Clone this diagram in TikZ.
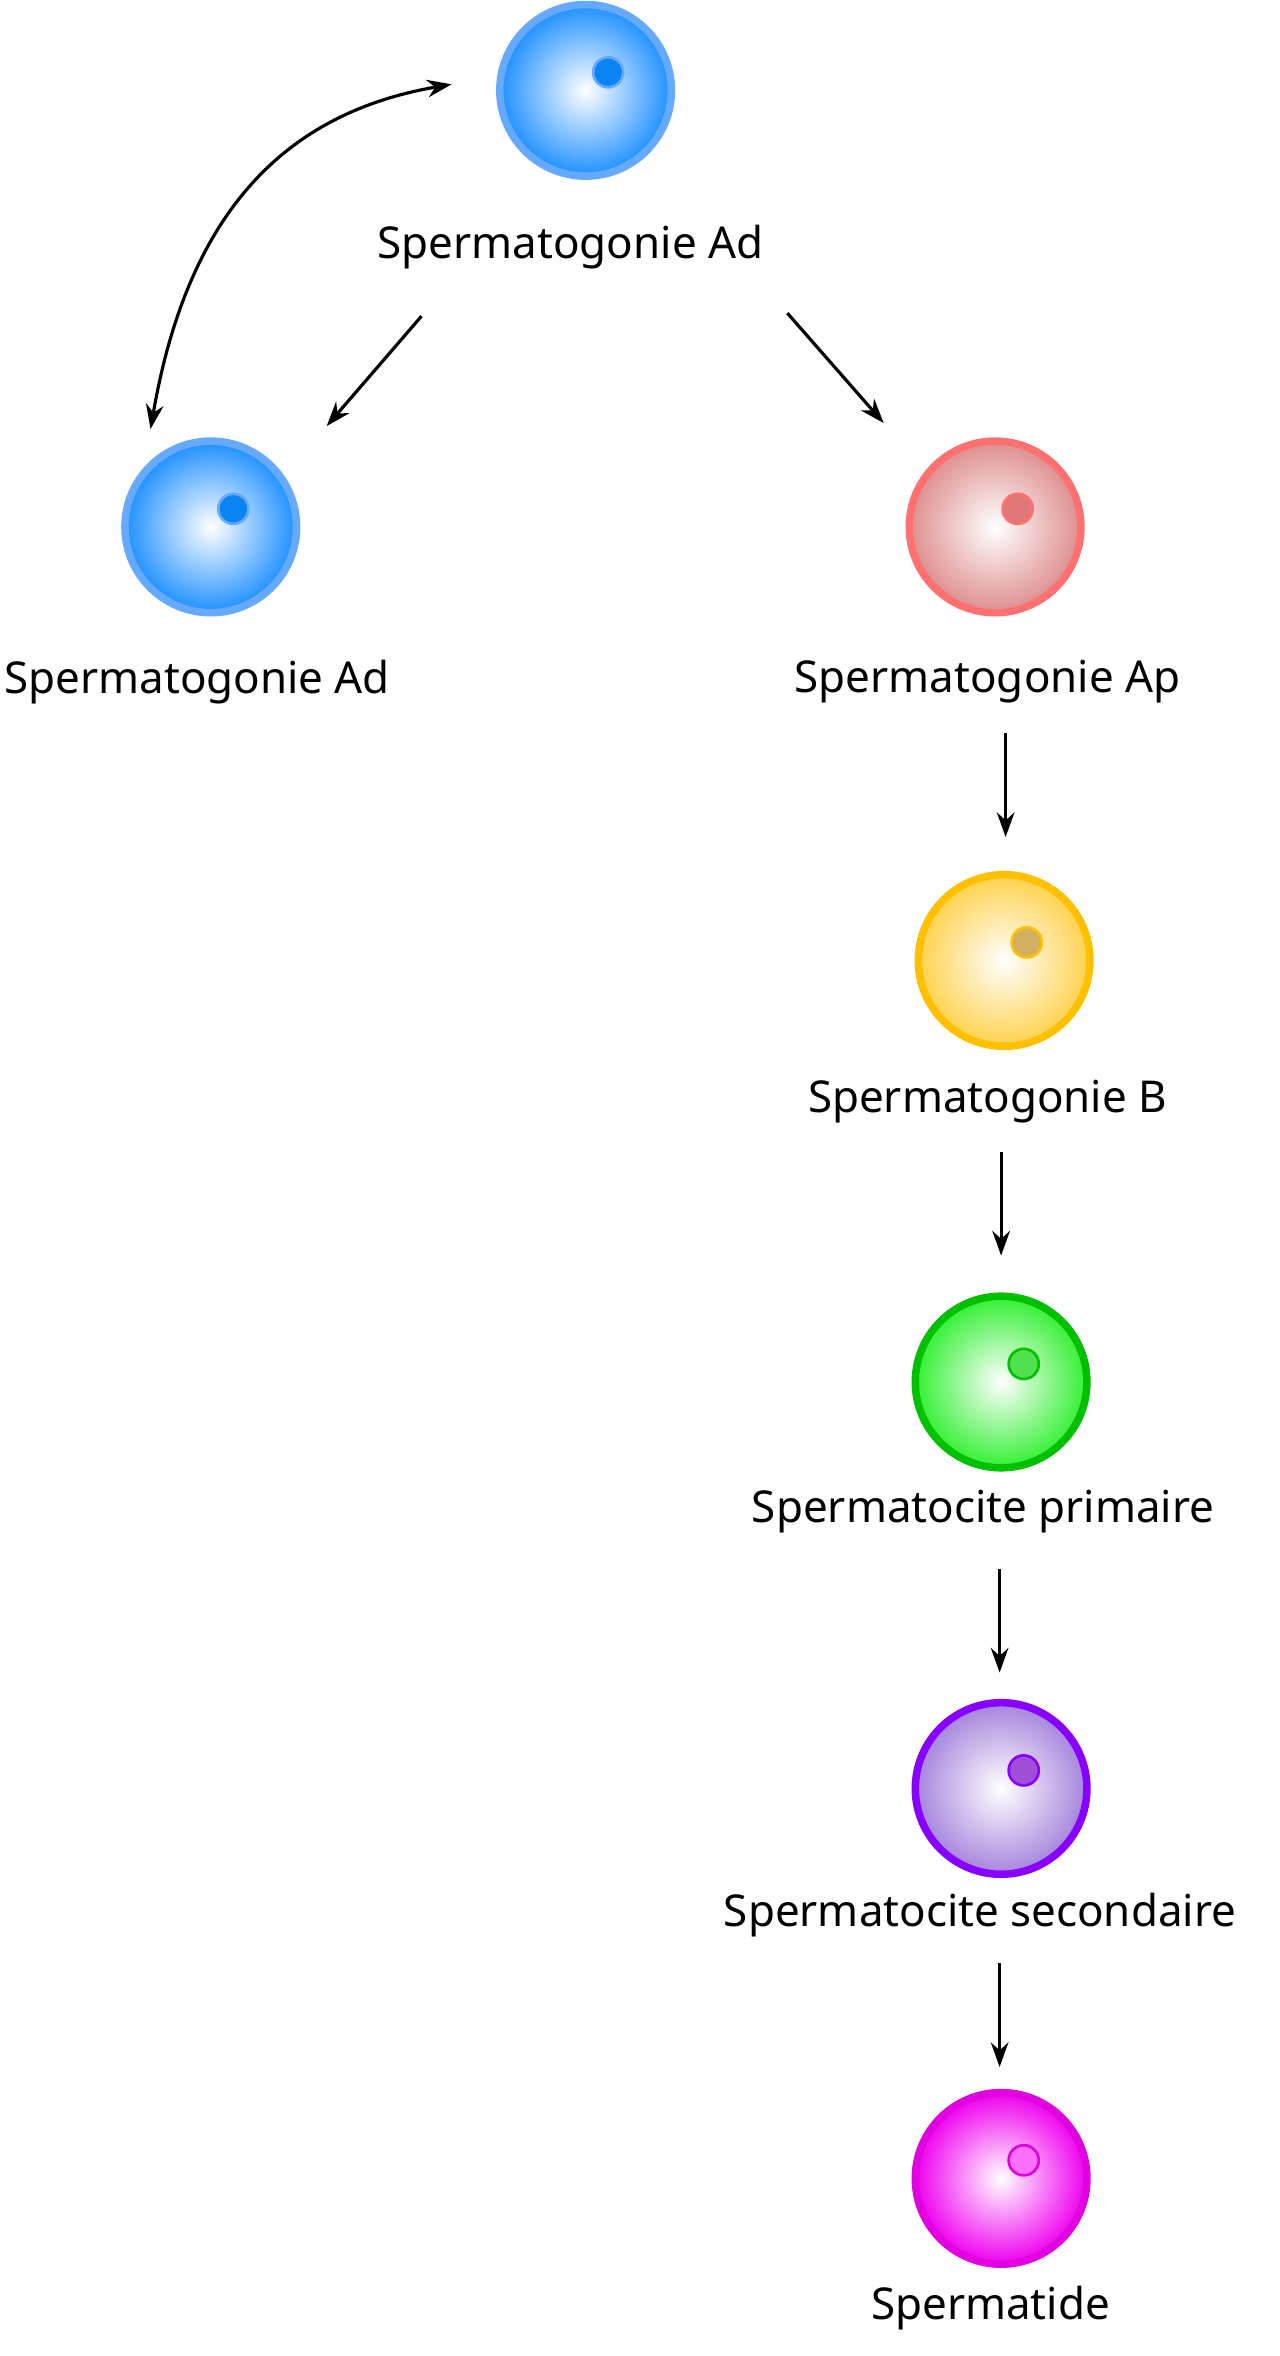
\documentclass[tikz,border=0pt]{standalone}
\usepackage{fontspec}
\setmainfont{Noto Sans}
\usetikzlibrary{arrows.meta}
\definecolor{bluefill}{HTML}{1E90FF}\definecolor{blueline}{HTML}{66AAFF}\definecolor{bluenuc}{HTML}{0A84F0}
\definecolor{redfill}{HTML}{DE8E8E}\definecolor{redline}{HTML}{FF7070}\definecolor{rednuc}{HTML}{E07878}
\definecolor{yelfill}{HTML}{FFD24D}\definecolor{yelline}{HTML}{FFC000}\definecolor{yelnuc}{HTML}{D0B060}
\definecolor{grnfill}{HTML}{33F033}\definecolor{grnline}{HTML}{00C000}\definecolor{grnnuc}{HTML}{50E050}
\definecolor{purfill}{HTML}{A584DC}\definecolor{purline}{HTML}{8800FF}\definecolor{purnuc}{HTML}{A050D8}
\definecolor{magfill}{HTML}{EE00EE}\definecolor{magline}{HTML}{E000E0}\definecolor{magnuc}{HTML}{FF70FF}
\tikzset{
 cell/.style 2 args={circle,minimum size=114*0.03012cm,inner sep=0pt,line width=5*0.03012cm,draw=#2,inner color=white,outer color=#1},
 nuc/.style 2 args={circle,minimum size=20*0.03012cm,inner sep=0pt,line width=1.5pt,draw=#2,fill=#1},
 lab/.style={font=\fontsize{25}{30}\selectfont},
 arr/.style={-{Stealth[length=14pt,width=10pt]},line width=1.8pt}
}
\begin{document}
\begin{tikzpicture}[x=0.03012cm,y=-0.03012cm]
\useasboundingbox (0,0) rectangle (850,1565);
\newcommand{\cellat}[6]{%
 \node[cell={#4}{#5}] (#1) at (#2,#3) {};
 \node[nuc={#6}{#5}] (#1n) at ([xshift=15*0.03012cm,yshift=12*0.03012cm]#1.center) {};}
\cellat{top}{389}{60}{bluefill}{blueline}{bluenuc}
\cellat{ad}{140}{350}{bluefill}{blueline}{bluenuc}
\cellat{ap}{661}{350}{redfill}{redline}{rednuc}
\cellat{b}{667}{638}{yelfill}{yelline}{yelnuc}
\cellat{pri}{665}{918}{grnfill}{grnline}{grnnuc}
\cellat{sec}{665}{1188}{purfill}{purline}{purnuc}
\cellat{tid}{665}{1447}{magfill}{magline}{magnuc}
\node[lab] (ltop) at (379,164) {Spermatogonie Ad};
\node[lab] (lad) at (131,453) {Spermatogonie Ad};
\node[lab] (lap) at (656,453) {Spermatogonie Ap};
\node[lab] (lb) at (656,732) {Spermatogonie B};
\node[lab] (lpri) at (653,1004) {Spermatocite primaire};
\node[lab] (lsec) at (651,1272) {Spermatocite secondaire};
\node[lab] (ltid) at (658,1533) {Spermatide};
\coordinate (a1) at (280,210); \coordinate (a2) at (217,283);
\coordinate (b1) at (523,208); \coordinate (b2) at (587,281);
\coordinate (c1) at (100,285); \coordinate (c2) at (300,56);
\draw[arr] (a1) -- (a2);
\draw[arr] (b1) -- (b2);
\draw[arr,{Stealth[length=14pt,width=10pt]}-{Stealth[length=14pt,width=10pt]}] (c1) .. controls (125,140) and (190,75) .. (c2);
\coordinate (d1) at (668,487); \coordinate (d2) at (668,556);
\coordinate (e1) at (665,765); \coordinate (e2) at (665,834);
\coordinate (f1) at (664,1042); \coordinate (f2) at (664,1111);
\coordinate (g1) at (664,1304); \coordinate (g2) at (664,1373);
\draw[arr] (d1) -- (d2);
\draw[arr] (e1) -- (e2);
\draw[arr] (f1) -- (f2);
\draw[arr] (g1) -- (g2);
\end{tikzpicture}
\end{document}
